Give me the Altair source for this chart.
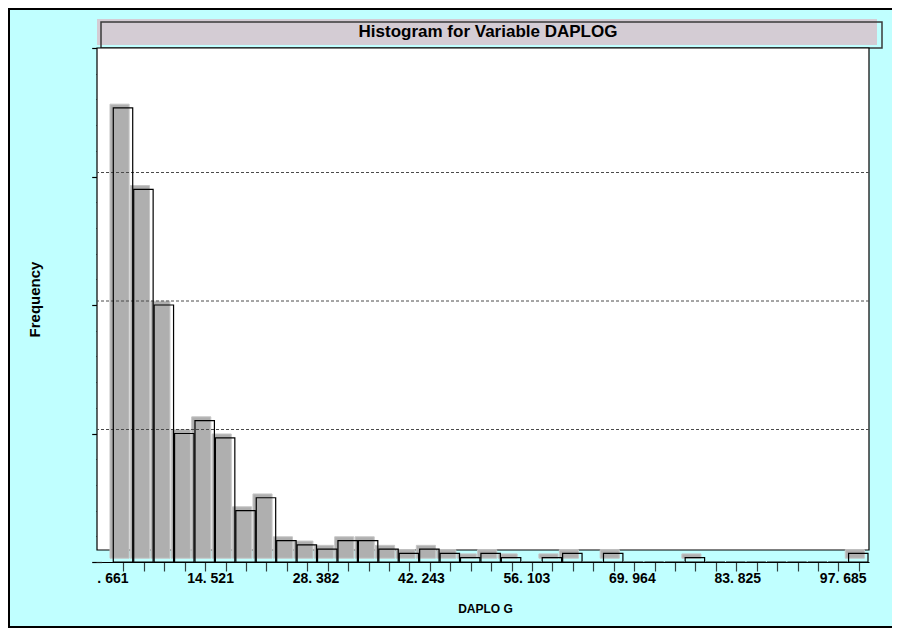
import altair as alt
import pandas as pd

# ---------------- data ----------------
TITLE = "Histogram for Variable DAPLOG"
Y_TITLE = "Frequency"
X_TITLE = "DAPLO G"

X_MIN = 0.661          # left edge of the first bin
X_MAX = 100.0          # right edge of the last bin
X_LOW = -1.48          # left end of the axis
N_BINS = 37
COUNTS = [106, 87, 60, 30, 33, 29, 12, 15, 5, 4, 3, 5, 5, 3, 2, 3, 2, 1, 2, 1,
          0, 1, 2, 0, 2, 0, 0, 0, 1, 0, 0, 0, 0, 0, 0, 0, 2]

LABEL_VALUES = [0.661, 14.521, 28.382, 42.243, 56.103, 69.964, 83.825, 97.685]
LABEL_TEXTS = [". 661", "14. 521", "28. 382", "42. 243", "56. 103", "69. 964",
               "83. 825", "97. 685"]

Y_MAX = 120
Y_MAJOR = [0, 30, 60, 90, 120]
Y_MINOR = [0, 6, 12, 18, 24, 30, 36, 42, 48, 54, 60, 66, 72, 78, 84, 90, 96,
           102, 108, 114, 120]
GRID = [30, 60, 90]

# ---------------- layout ----------------
W, H = 772, 514
PAD_L, PAD_T, PAD_R, PAD_B = 89, 40, 23, 66
FONT = "Liberation Sans"
BG = "#C0FFFF"

bw = (X_MAX - X_MIN) / N_BINS
starts = [X_MIN + i * bw for i in range(N_BINS)]
df = pd.DataFrame({
    "start": starts,
    "end": [s + bw for s in starts],
    "mid": [s + bw / 2 for s in starts],
    "count": COUNTS,
})

xscale = alt.Scale(domain=[X_LOW, X_MAX], nice=False, zero=False)
yscale = alt.Scale(domain=[0, Y_MAX], nice=False, zero=True)

one = pd.DataFrame({"k": [0]})

# outer frame: left, top and bottom edges only (right edge lies off the page)
border_lines = alt.Chart(one).mark_rule(color="black", strokeWidth=2).encode(
    x=alt.value(-88), y=alt.value(-39), y2=alt.value(H + PAD_B - 1)
)
border_top = alt.Chart(one).mark_rule(color="black", strokeWidth=2).encode(
    x=alt.value(-89), x2=alt.value(W + PAD_R), y=alt.value(-39)
)
border_bottom = alt.Chart(one).mark_rule(color="black", strokeWidth=2).encode(
    x=alt.value(-89), x2=alt.value(W + PAD_R), y=alt.value(H + PAD_B - 1)
)

title_fill = alt.Chart(one).mark_rect(color="#D4CCD4").encode(
    x=alt.value(0), x2=alt.value(780), y=alt.value(-29), y2=alt.value(-3)
)
title_box = alt.Chart(one).mark_rect(
    fillOpacity=0, stroke="#3A3A3A", strokeWidth=1.5
).encode(
    x=alt.value(4), x2=alt.value(785), y=alt.value(-26), y2=alt.value(0)
)
title_text = alt.Chart(one).mark_text(
    text=TITLE, font=FONT, fontSize=17, fontWeight="bold", color="black",
    align="center", baseline="middle"
).encode(x=alt.value(391), y=alt.value(-16))

frame = alt.Chart(one).mark_rect(
    fill="white", stroke="black", strokeWidth=1.2
).encode(
    x=alt.value(0), x2=alt.value(W), y=alt.value(0), y2=alt.value(502)
)

grey = alt.Chart(df).transform_filter("datum.count > 0").mark_rect(
    fill="#AFAFAF", stroke="#C6C6C6", strokeWidth=1,
    xOffset=-3.3, x2Offset=-4.6, yOffset=-3.8, y2Offset=-3.8
).encode(
    x=alt.X("start:Q", scale=xscale, axis=alt.Axis(
        orient="bottom", values=list(df["mid"]), tickSize=9, tickWidth=1.2,
        tickColor="#2F3F3F", labels=False, domain=True, domainColor="black",
        domainWidth=1, grid=False, title=X_TITLE, titleFont=FONT,
        titleFontSize=12, titleFontWeight="bold", titleColor="black",
        titleX=388, titleY=46, titleBaseline="middle", titleAlign="center")),
    x2="end:Q",
    y=alt.Y("count:Q", scale=yscale, axis=alt.Axis(
        orient="left", values=Y_MAJOR, tickSize=10, tickWidth=1.2,
        tickColor="black", offset=-4.7, labels=False, domain=False, grid=False,
        title=Y_TITLE, titleFont=FONT, titleFontSize=15, titleFontWeight="bold",
        titleColor="black", titleAngle=270, titleX=-67, titleY=251,
        titleBaseline="middle", titleAlign="center")),
    y2=alt.datum(0),
)

grid = alt.Chart(pd.DataFrame({"g": GRID})).mark_rule(
    color="#4A4A4A", strokeWidth=1, strokeDash=[3, 2], yOffset=-4
).encode(
    y=alt.Y("g:Q", scale=yscale, axis=alt.Axis(
        orient="left", values=Y_MINOR, tickSize=5.7, tickWidth=1,
        tickColor="#222222", offset=-4.7, labels=False, domain=False,
        grid=False, title=None)),
)

vals = ",".join(repr(v) for v in LABEL_VALUES)
txts = ",".join("'" + t + "'" for t in LABEL_TEXTS)
label_expr = f"[{txts}][indexof([{vals}], datum.value)]"

outline = alt.Chart(df).mark_rect(
    fillOpacity=0, stroke="black", strokeWidth=1.2, x2Offset=-1
).encode(
    x=alt.X("start:Q", scale=xscale, axis=alt.Axis(
        orient="bottom", values=LABEL_VALUES, ticks=False, tickSize=0,
        domain=False, grid=False, labelExpr=label_expr, labelAlign="right",
        labelOffset=14.7, labelPadding=9, labelBaseline="top", labelFont=FONT,
        labelFontSize=14, labelFontWeight="bold", labelColor="black",
        labelOverlap=False, labelFlush=False, labelBound=False, title=None)),
    x2="end:Q",
    y=alt.Y("count:Q", scale=yscale, axis=None),
    y2=alt.datum(0),
)

chart = alt.layer(
    border_lines, border_top, border_bottom, title_fill, title_box,
    title_text, frame, grey, grid, outline
).resolve_axis(x="independent", y="independent").properties(
    width=W, height=H,
    autosize=alt.AutoSizeParams(type="none"),
    padding={"left": PAD_L, "top": PAD_T, "right": PAD_R, "bottom": PAD_B},
    background=BG,
).configure_view(stroke=None, fill=None)

chart.save("out.html", embed_options={"renderer": "svg", "actions": False})
